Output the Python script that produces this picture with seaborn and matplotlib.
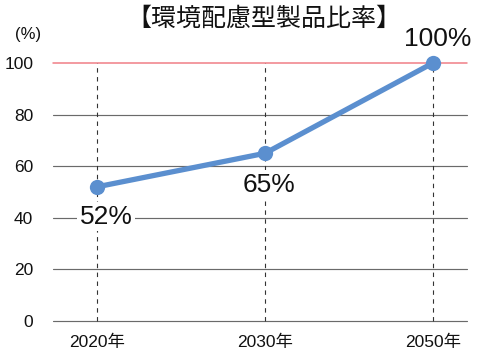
import matplotlib
matplotlib.use("Agg")
import matplotlib.pyplot as plt
import seaborn as sns
import pandas as pd

years = ["2020年", "2030年", "2050年"]
ratio = [52, 65, 100]
labels = ["52%", "65%", "100%"]
yticks = [0, 20, 40, 60, 80, 100]
title = "【環境配慮型製品比率】"
unit = "(%)"

sns.set_theme(style="white")
plt.rcParams['font.family'] = ['Liberation Sans', 'Noto Sans CJK JP', 'DejaVu Sans']

fig = plt.figure(figsize=(4.8, 3.58), dpi=100)
ax = fig.add_axes([0.110, 0.1034, 0.863, 0.7206])

df = pd.DataFrame({"year": years, "ratio": ratio})

# grid lines
for y in yticks:
    if y == 100:
        ax.axhline(y, color="#f07f86", lw=1.1, zorder=1, clip_on=False)
    else:
        ax.axhline(y, color="#6a6a6a", lw=0.85, zorder=1, clip_on=False)

for i in range(len(years)):
    ax.plot([i, i], [0, 100], color="#333333", lw=0.8, ls=(0, (4, 4)), zorder=2)

offsets = [(6.5, -21.5), (3, -22.5), (3.6, 17.5)]
for i, (lab, v) in enumerate(zip(labels, ratio)):
    ax.annotate(lab, xy=(i, v), xytext=offsets[i], textcoords="offset points",
                ha="center", va="center", fontsize=19, color="#111111",
                bbox=dict(boxstyle="square,pad=0.1", fc="white", ec="none"),
                zorder=3)

sns.lineplot(data=df, x="year", y="ratio", ax=ax, color="#5b8fcf", lw=3.8,
             marker="o", markersize=11, markeredgewidth=0, zorder=4, sort=False)
for ln in ax.lines:
    ln.set_clip_on(False)

ax.set_xlim(-0.263, 2.203)
ax.set_ylim(0, 100)
ax.set_yticks(yticks)
ax.set_xticks(range(len(years)))
ax.set_xticklabels(years)
ax.set_xlabel("")
ax.set_ylabel("")
ax.tick_params(axis="y", labelsize=12.5, length=0, pad=14, colors="#111111")
ax.tick_params(axis="x", labelsize=12.5, length=0, pad=10, colors="#111111")
for s in ax.spines.values():
    s.set_visible(False)

fig.text(0.55, 0.948, title, ha="center", va="center", fontsize=18, color="#111111")
fig.text(0.058, 0.905, unit, ha="center", va="center", fontsize=12, color="#111111")

fig.savefig("out.png", dpi=100)
